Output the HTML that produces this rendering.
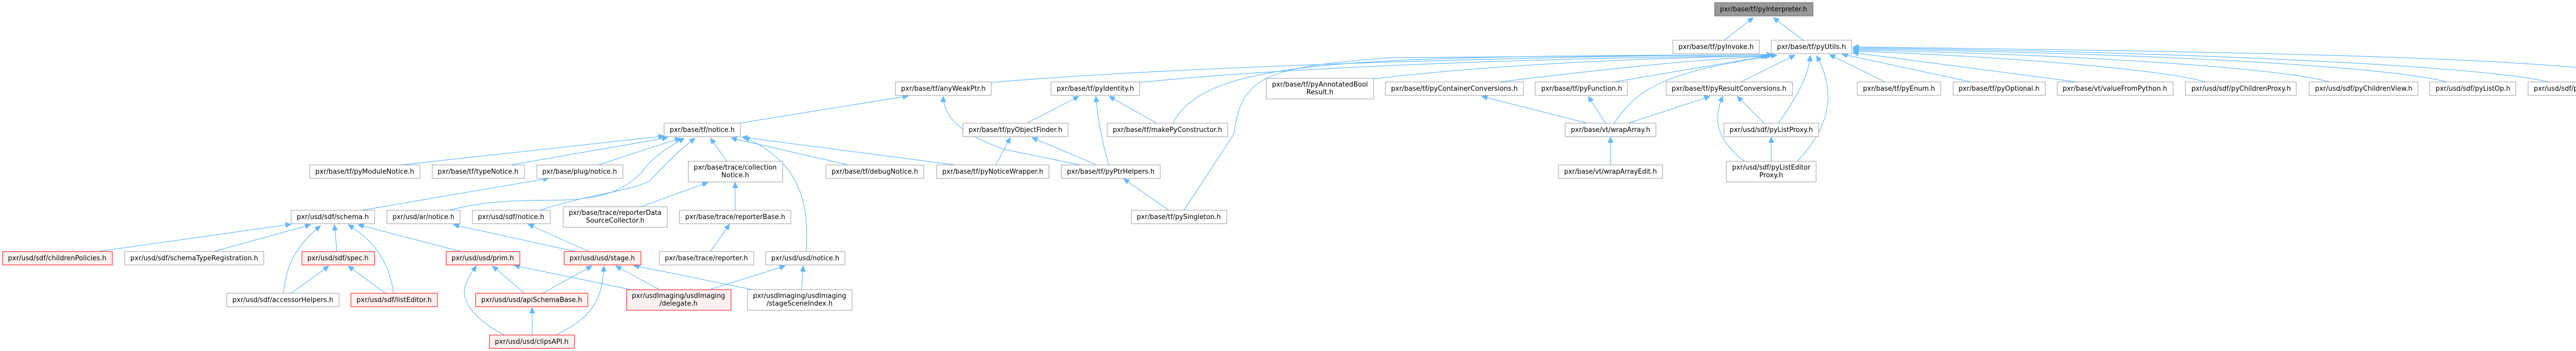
<!DOCTYPE html>
<html><head><meta charset="utf-8"><style>
*{box-sizing:border-box}
html,body{margin:0;padding:0;background:#fff;width:5307px;height:681px;overflow:hidden}
svg{display:block;overflow:hidden}
text{font-family:"DejaVu Sans","Liberation Sans",sans-serif;font-size:13px;fill:#000;text-anchor:middle}
.n{fill:#fff;stroke:#999;stroke-width:1}
.r{fill:#fff0f0;stroke:#f00;stroke-width:1}
.g{fill:#999;stroke:#666;stroke-width:1}
.e{fill:none;stroke:#63b8ff;stroke-width:1.2}
</style></head><body>
<svg width="5307" height="681" viewBox="0 0 5307 681" xmlns="http://www.w3.org/2000/svg">
<defs><marker id="a" markerUnits="userSpaceOnUse" markerWidth="12" markerHeight="10" refX="11" refY="5" orient="auto"><path d="M0,0 L11,5 L0,10 z" fill="#63b8ff" stroke="#63b8ff"/></marker></defs>
<g class="e" marker-end="url(#a)">
<path d="M3347,78 L3403,34"/>
<path d="M3500,78 L3442,34"/>
<path d="M1924,160 C2300,128 3000,108 3440,106"/>
<path d="M2212,160 C2500,130 3000,112 3440,108"/>
<path d="M2277,239 C2340,110 2650,110 3440,106"/>
<path d="M2298,408 L2395,260 C2410,150 2450,130 2700,112 L3440,106"/>
<path d="M2666,153 C2900,125 3200,112 3440,108"/>
<path d="M2910,159 C3150,130 3300,115 3430,109"/>
<path d="M3133,159 L3435,108"/>
<path d="M3379,159 L3484,107"/>
<path d="M3133,239 C3180,170 3230,140 3449,107"/>
<path d="M3452,239 C3500,170 3510,140 3514,108"/>
<path d="M3488,313 C3560,240 3560,170 3526,108"/>
<path d="M3659,159 L3551,106"/>
<path d="M3826,159 L3575,105"/>
<path d="M4031,159 L3596,102"/>
<path d="M4281,159 C4200,135 3900,110 3597,99"/>
<path d="M4522,159 C4420,130 4000,105 3597,97"/>
<path d="M4749,159 C4620,125 4100,102 3597,95"/>
<path d="M4947,159 C4800,125 4200,100 3597,93"/>
<path d="M5174,159 C5060,110 4300,100 3597,91"/>
<path d="M1435,239 L1763,186"/>
<path d="M2097,320 L1950,290 C1870,262 1831,230 1831,187"/>
<path d="M1993,239 L2094,187"/>
<path d="M2152,320 C2135,260 2130,220 2127,187"/>
<path d="M2245,239 L2153,187"/>
<path d="M1933,320 L1961,267"/>
<path d="M2129,320 L2003,267"/>
<path d="M2269,408 L2181,347"/>
<path d="M778,320 L1289,264"/>
<path d="M991,320 L1296,267"/>
<path d="M1161,320 L1321,268"/>
<path d="M871,408 C960,385 1030,390 1096,388 C1170,385 1210,370 1245,335 C1270,300 1300,285 1328,268"/>
<path d="M1047,408 C1150,375 1230,370 1262,350 C1290,320 1320,290 1349,268"/>
<path d="M1411,313 L1379,268"/>
<path d="M1647,320 L1419,268"/>
<path d="M1854,320 L1440,266"/>
<path d="M1565,488 C1568,420 1570,320 1444,266"/>
<path d="M1244,401 L1374,354"/>
<path d="M1427,408 L1427,354"/>
<path d="M1379,488 L1416,435"/>
<path d="M702,408 L1065,346"/>
<path d="M190,488 L565,435"/>
<path d="M415,488 L603,436"/>
<path d="M550,569 C555,520 570,480 622,438"/>
<path d="M654,488 L649,436"/>
<path d="M764,569 C755,510 730,470 676,436"/>
<path d="M895,488 L695,436"/>
<path d="M565,569 L638,516"/>
<path d="M748,569 L676,516"/>
<path d="M1117,488 L880,436"/>
<path d="M1143,488 L1025,435"/>
<path d="M1018,569 L956,516"/>
<path d="M979,650 C920,620 890,580 905,550 C910,535 918,525 925,516"/>
<path d="M1225,562 L998,515"/>
<path d="M1053,569 L1149,516"/>
<path d="M1079,650 C1140,620 1170,590 1172,516"/>
<path d="M1280,562 L1195,516"/>
<path d="M1461,562 L1230,515"/>
<path d="M1377,562 L1524,516"/>
<path d="M1556,562 L1559,516"/>
<path d="M1033,650 L1033,597"/>
<path d="M3081,239 L2876,187"/>
<path d="M3116,239 L3083,187"/>
<path d="M3161,239 L3319,187"/>
<path d="M3424,239 L3372,187"/>
<path d="M3386,313 C3330,270 3325,230 3344,187"/>
<path d="M3126,320 L3126,266"/>
<path d="M3438,313 L3438,266"/>
</g>
<rect class="g" x="3328" y="5" width="191" height="26"/><text x="3423" y="22" textLength="169" lengthAdjust="spacingAndGlyphs">pxr/base/tf/pyInterpreter.h</text>
<rect class="n" x="3247" y="78" width="168" height="26"/><text x="3331" y="95" textLength="146" lengthAdjust="spacingAndGlyphs">pxr/base/tf/pyInvoke.h</text>
<rect class="n" x="3438" y="78" width="156" height="26"/><text x="3516" y="95" textLength="134" lengthAdjust="spacingAndGlyphs">pxr/base/tf/pyUtils.h</text>

<rect class="n" x="1738" y="159" width="186" height="26"/><text x="1831" y="176" textLength="164" lengthAdjust="spacingAndGlyphs">pxr/base/tf/anyWeakPtr.h</text>
<rect class="n" x="2040" y="159" width="172" height="26"/><text x="2126" y="176" textLength="150" lengthAdjust="spacingAndGlyphs">pxr/base/tf/pyIdentity.h</text>
<rect class="n" x="2458" y="152" width="208" height="40"/><text x="2562" y="168" textLength="186" lengthAdjust="spacingAndGlyphs">pxr/base/tf/pyAnnotatedBool</text><text x="2562" y="183">Result.h</text>
<rect class="n" x="2689" y="159" width="268" height="26"/><text x="2823" y="176" textLength="246" lengthAdjust="spacingAndGlyphs">pxr/base/tf/pyContainerConversions.h</text>
<rect class="n" x="2980" y="159" width="179" height="26"/><text x="3070" y="176" textLength="157" lengthAdjust="spacingAndGlyphs">pxr/base/tf/pyFunction.h</text>
<rect class="n" x="3234" y="159" width="245" height="26"/><text x="3356" y="176" textLength="223" lengthAdjust="spacingAndGlyphs">pxr/base/tf/pyResultConversions.h</text>
<rect class="n" x="3605" y="159" width="162" height="26"/><text x="3686" y="176" textLength="140" lengthAdjust="spacingAndGlyphs">pxr/base/tf/pyEnum.h</text>
<rect class="n" x="3791" y="159" width="179" height="26"/><text x="3880" y="176" textLength="157" lengthAdjust="spacingAndGlyphs">pxr/base/tf/pyOptional.h</text>
<rect class="n" x="3993" y="159" width="225" height="26"/><text x="4105" y="176" textLength="203" lengthAdjust="spacingAndGlyphs">pxr/base/vt/valueFromPython.h</text>
<rect class="n" x="4242" y="159" width="215" height="26"/><text x="4350" y="176" textLength="193" lengthAdjust="spacingAndGlyphs">pxr/usd/sdf/pyChildrenProxy.h</text>
<rect class="n" x="4482" y="159" width="211" height="26"/><text x="4588" y="176" textLength="189" lengthAdjust="spacingAndGlyphs">pxr/usd/sdf/pyChildrenView.h</text>
<rect class="n" x="4716" y="159" width="167" height="26"/><text x="4800" y="176" textLength="145" lengthAdjust="spacingAndGlyphs">pxr/usd/sdf/pyListOp.h</text>
<rect class="n" x="4907" y="159" width="214" height="26"/><text x="5014" y="176" textLength="192" lengthAdjust="spacingAndGlyphs">pxr/usd/sdf/pyMapEditProxy.h</text>
<rect class="n" x="5144" y="159" width="158" height="26"/><text x="5223" y="176" textLength="136" lengthAdjust="spacingAndGlyphs">pxr/usd/sdf/pySpec.h</text>

<rect class="n" x="1289" y="239" width="148" height="26"/><text x="1363" y="256" textLength="126" lengthAdjust="spacingAndGlyphs">pxr/base/tf/notice.h</text>
<rect class="n" x="1869" y="239" width="204" height="26"/><text x="1971" y="256" textLength="182" lengthAdjust="spacingAndGlyphs">pxr/base/tf/pyObjectFinder.h</text>
<rect class="n" x="2149" y="239" width="234" height="26"/><text x="2266" y="256" textLength="212" lengthAdjust="spacingAndGlyphs">pxr/base/tf/makePyConstructor.h</text>
<rect class="n" x="3038" y="239" width="176" height="26"/><text x="3126" y="256" textLength="154" lengthAdjust="spacingAndGlyphs">pxr/base/vt/wrapArray.h</text>
<rect class="n" x="3346" y="239" width="184" height="26"/><text x="3438" y="256" textLength="162" lengthAdjust="spacingAndGlyphs">pxr/usd/sdf/pyListProxy.h</text>

<rect class="n" x="601" y="320" width="214" height="26"/><text x="708" y="337" textLength="192" lengthAdjust="spacingAndGlyphs">pxr/base/tf/pyModuleNotice.h</text>
<rect class="n" x="839" y="320" width="179" height="26"/><text x="928" y="337" textLength="157" lengthAdjust="spacingAndGlyphs">pxr/base/tf/typeNotice.h</text>
<rect class="n" x="1042" y="320" width="167" height="26"/><text x="1125" y="337" textLength="145" lengthAdjust="spacingAndGlyphs">pxr/base/plug/notice.h</text>
<rect class="n" x="1336" y="313" width="183" height="40"/><text x="1427" y="329" textLength="161" lengthAdjust="spacingAndGlyphs">pxr/base/trace/collection</text><text x="1427" y="344">Notice.h</text>
<rect class="n" x="1603" y="320" width="190" height="26"/><text x="1698" y="337" textLength="168" lengthAdjust="spacingAndGlyphs">pxr/base/tf/debugNotice.h</text>
<rect class="n" x="1818" y="320" width="218" height="26"/><text x="1927" y="337" textLength="196" lengthAdjust="spacingAndGlyphs">pxr/base/tf/pyNoticeWrapper.h</text>
<rect class="n" x="2060" y="320" width="192" height="26"/><text x="2156" y="337" textLength="170" lengthAdjust="spacingAndGlyphs">pxr/base/tf/pyPtrHelpers.h</text>
<rect class="n" x="3025" y="320" width="202" height="26"/><text x="3126" y="337" textLength="180" lengthAdjust="spacingAndGlyphs">pxr/base/vt/wrapArrayEdit.h</text>
<rect class="n" x="3351" y="313" width="174" height="40"/><text x="3438" y="329" textLength="152" lengthAdjust="spacingAndGlyphs">pxr/usd/sdf/pyListEditor</text><text x="3438" y="344">Proxy.h</text>

<rect class="n" x="565" y="408" width="162" height="26"/><text x="646" y="425" textLength="140" lengthAdjust="spacingAndGlyphs">pxr/usd/sdf/schema.h</text>
<rect class="n" x="751" y="408" width="142" height="26"/><text x="822" y="425" textLength="120" lengthAdjust="spacingAndGlyphs">pxr/usd/ar/notice.h</text>
<rect class="n" x="917" y="408" width="151" height="26"/><text x="992" y="425" textLength="129" lengthAdjust="spacingAndGlyphs">pxr/usd/sdf/notice.h</text>
<rect class="n" x="1093" y="401" width="202" height="40"/><text x="1194" y="417" textLength="180" lengthAdjust="spacingAndGlyphs">pxr/base/trace/reporterData</text><text x="1194" y="432">SourceCollector.h</text>
<rect class="n" x="1319" y="408" width="216" height="26"/><text x="1427" y="425" textLength="194" lengthAdjust="spacingAndGlyphs">pxr/base/trace/reporterBase.h</text>
<rect class="n" x="2196" y="408" width="185" height="26"/><text x="2288" y="425" textLength="163" lengthAdjust="spacingAndGlyphs">pxr/base/tf/pySingleton.h</text>

<rect class="r" x="5" y="488" width="213" height="26"/><text x="111" y="505" textLength="191" lengthAdjust="spacingAndGlyphs">pxr/usd/sdf/childrenPolicies.h</text>
<rect class="n" x="242" y="488" width="270" height="26"/><text x="377" y="505" textLength="248" lengthAdjust="spacingAndGlyphs">pxr/usd/sdf/schemaTypeRegistration.h</text>
<rect class="r" x="586" y="488" width="141" height="26"/><text x="656" y="505" textLength="119" lengthAdjust="spacingAndGlyphs">pxr/usd/sdf/spec.h</text>
<rect class="r" x="866" y="488" width="143" height="26"/><text x="937" y="505" textLength="121" lengthAdjust="spacingAndGlyphs">pxr/usd/usd/prim.h</text>
<rect class="r" x="1095" y="488" width="149" height="26"/><text x="1169" y="505" textLength="127" lengthAdjust="spacingAndGlyphs">pxr/usd/usd/stage.h</text>
<rect class="n" x="1280" y="488" width="183" height="26"/><text x="1371" y="505" textLength="161" lengthAdjust="spacingAndGlyphs">pxr/base/trace/reporter.h</text>
<rect class="n" x="1486" y="488" width="154" height="26"/><text x="1563" y="505" textLength="132" lengthAdjust="spacingAndGlyphs">pxr/usd/usd/notice.h</text>

<rect class="n" x="440" y="569" width="218" height="26"/><text x="549" y="586" textLength="196" lengthAdjust="spacingAndGlyphs">pxr/usd/sdf/accessorHelpers.h</text>
<rect class="r" x="681" y="569" width="168" height="26"/><text x="765" y="586" textLength="146" lengthAdjust="spacingAndGlyphs">pxr/usd/sdf/listEditor.h</text>
<rect class="r" x="923" y="569" width="218" height="26"/><text x="1032" y="586" textLength="196" lengthAdjust="spacingAndGlyphs">pxr/usd/usd/apiSchemaBase.h</text>
<rect class="r" x="1216" y="562" width="203" height="40"/><text x="1317" y="578" textLength="181" lengthAdjust="spacingAndGlyphs">pxr/usdImaging/usdImaging</text><text x="1317" y="593">/delegate.h</text>
<rect class="n" x="1451" y="562" width="203" height="40"/><text x="1552" y="578" textLength="181" lengthAdjust="spacingAndGlyphs">pxr/usdImaging/usdImaging</text><text x="1552" y="593">/stageSceneIndex.h</text>

<rect class="r" x="950" y="650" width="165" height="26"/><text x="1032" y="667" textLength="143" lengthAdjust="spacingAndGlyphs">pxr/usd/usd/clipsAPI.h</text>
</svg>
</body></html>
